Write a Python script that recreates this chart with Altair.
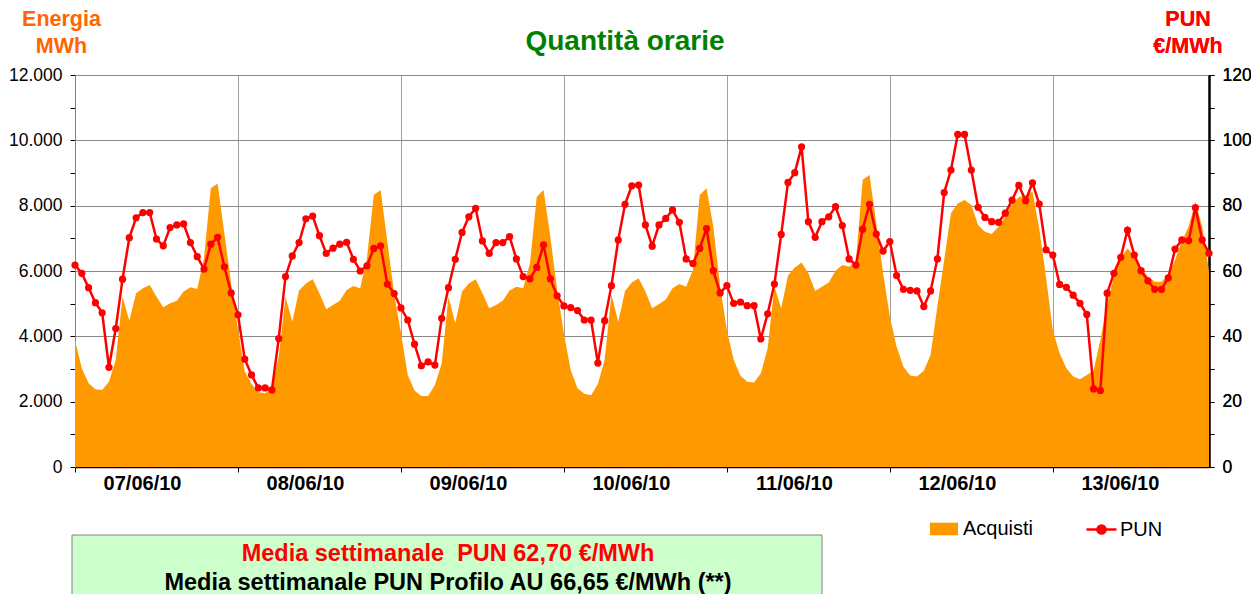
import altair as alt
import pandas as pd

# ---- data ----
day_labels = ["07/06/10", "08/06/10", "09/06/10", "10/06/10", "11/06/10", "12/06/10", "13/06/10"]

acquisti = [
    3890, 3020, 2560, 2380, 2360, 2610, 3280, 5210, 4480, 5320, 5470, 5570, 5210, 4890, 5010, 5090, 5370, 5500, 5450, 6400, 8530, 8680, 7150, 5600,
    4220, 2920, 2540, 2290, 2260, 2410, 3380, 5210, 4450, 5400, 5620, 5750, 5320, 4830, 4960, 5090, 5420, 5540, 5470, 6400, 8330, 8480, 6900, 5300,
    4100, 2820, 2340, 2170, 2170, 2510, 3170, 5210, 4400, 5370, 5620, 5750, 5320, 4860, 4960, 5090, 5400, 5520, 5470, 6240, 8270, 8480, 7050, 5420,
    4090, 2970, 2410, 2240, 2200, 2540, 3280, 5270, 4450, 5390, 5650, 5780, 5370, 4860, 4990, 5130, 5470, 5600, 5520, 6030, 8330, 8530, 7360, 5550,
    4190, 3280, 2790, 2610, 2590, 2870, 3630, 5520, 4860, 5860, 6110, 6260, 5930, 5390, 5520, 5650, 6010, 6180, 6130, 6300, 8790, 8940, 7460, 5950,
    4600, 3680, 3070, 2800, 2770, 2950, 3430, 4920, 6340, 7770, 8070, 8170, 8020, 7410, 7200, 7130, 7360, 7660, 8070, 8260, 8330, 8430, 7300, 5800,
    4190, 3480, 3020, 2770, 2690, 2820, 2950, 3890, 5010, 5830, 6420, 6690, 6490, 6080, 5830, 5670, 5670, 5880, 6340, 6900, 7360, 8120, 7360, 6000,
]

pun = [
    61.8, 59.3, 54.9, 50.3, 47.2, 30.5, 42.4, 57.5, 70.2, 76.3, 77.9, 77.9, 69.8, 67.7, 73.3, 74.1, 74.4, 68.7, 64.4, 60.6, 68.2, 70.3, 61.3, 53.3,
    46.6, 33.0, 28.2, 24.2, 24.2, 23.6, 39.3, 58.3, 64.6, 68.7, 76.0, 76.8, 70.8, 65.4, 67.0, 68.2, 68.8, 63.6, 60.0, 61.6, 66.9, 67.7, 56.0, 53.1,
    48.7, 45.0, 37.6, 31.0, 32.2, 31.2, 45.5, 54.9, 63.6, 71.8, 76.6, 79.2, 69.2, 65.4, 68.7, 68.7, 70.5, 63.7, 58.3, 57.6, 61.1, 68.0, 57.6, 52.4,
    49.3, 48.8, 47.9, 45.0, 45.0, 31.8, 44.8, 55.5, 69.5, 80.4, 86.1, 86.3, 74.1, 67.6, 74.1, 76.1, 78.7, 74.9, 63.7, 62.3, 66.9, 73.0, 60.1, 53.3,
    55.5, 50.1, 50.5, 49.4, 49.4, 39.2, 46.9, 56.0, 71.2, 87.1, 90.1, 98.0, 75.1, 70.3, 75.1, 76.6, 79.7, 73.9, 63.7, 61.8, 72.8, 80.4, 71.3, 66.1,
    69.0, 58.6, 54.4, 54.1, 53.9, 49.1, 53.9, 63.7, 84.0, 90.9, 101.8, 101.8, 90.9, 79.5, 76.4, 75.1, 74.9, 77.7, 81.7, 86.2, 81.5, 87.0, 80.5, 66.5,
    64.9, 55.9, 55.0, 52.6, 50.1, 46.7, 23.9, 23.4, 53.2, 59.3, 64.2, 72.5, 64.9, 60.1, 57.0, 54.4, 54.4, 57.9, 66.7, 69.5, 69.3, 79.4, 69.5, 65.4,
]

hours = list(range(len(pun)))
series_area = "Acquisti"
series_line = "PUN"
chart_title = "Quantità orarie"
left_title = ["Energia", "MWh"]
right_title = ["PUN", "€/MWh"]
note_red = "Media settimanale  PUN 62,70 €/MWh"
note_black = "Media settimanale PUN Profilo AU 66,65 €/MWh (**)"

df = pd.DataFrame({"ora": hours, "acquisti": acquisti, "pun": pun,
                   "s1": series_area, "s2": series_line})

FONT = "Liberation Sans"
W, H = 1134, 392

x_enc = alt.X(
    "ora:Q",
    scale=alt.Scale(domain=[0, len(hours) - 1], nice=False, zero=False),
    axis=alt.Axis(
        values=[24 * k for k in range(7)],
        labelExpr="%s[round(datum.value / 24)]" % str(day_labels),
        labelOffset=67,
        labelFlush=False,
        labelFont=FONT, labelFontSize=20, labelFontWeight="bold", labelColor="#000000",
        labelPadding=1,
        grid=True, gridColor="#a0a0a0", gridWidth=1,
        ticks=True, tickSize=5, tickColor="#000000",
        domainColor="#000000", domainWidth=1.5,
        title=None,
    ),
)

area = alt.Chart(df).mark_area(interpolate="linear", opacity=1).encode(
    x=x_enc,
    y=alt.Y(
        "acquisti:Q",
        scale=alt.Scale(domain=[0, 12000], nice=False),
        axis=alt.Axis(
            orient="left",
            values=list(range(0, 12001, 1000)),
            labelExpr="datum.value % 2000 === 0 ? replace(format(datum.value, ',d'), ',', '.') : ''",
            labelFont=FONT, labelFontSize=17.5, labelColor="#000000", labelPadding=8,
            grid=True, gridColor="#8a8a8a", gridWidth=1,
            gridOpacity={"condition": {"test": "datum.value % 2000 === 0", "value": 1}, "value": 0},
            tickSize=5, tickColor="#000000",
            domainColor="#808080",
            title=left_title, titleAngle=0, titleAlign="center", titleBaseline="alphabetic",
            titleX=-14, titleY=-50, titleLineHeight=27,
            titleFont=FONT, titleFontSize=21.5, titleFontWeight="bold", titleColor="#FF6600",
        ),
    ),
    fill=alt.Fill(
        "s1:N",
        scale=alt.Scale(domain=[series_area], range=["#FF9900"]),
        legend=alt.Legend(
            title=None, orient="none", legendX=855, legendY=440,
            symbolType="M-1,-0.45L1,-0.45L1,0.45L-1,0.45Z", symbolSize=784,
            symbolStrokeWidth=0, labelFont=FONT, labelFontSize=20, labelColor="#000000",
            labelOffset=5,
        ),
    ),
)

y_right = alt.Y(
    "pun:Q",
    scale=alt.Scale(domain=[0, 120], nice=False),
    axis=alt.Axis(
        orient="right",
        values=list(range(0, 121, 10)),
        labelExpr="datum.value % 20 === 0 ? datum.label : ''",
        labelFont=FONT, labelFontSize=17.5, labelColor="#000000", labelPadding=8,
        grid=False, tickSize=5, tickColor="#000000",
        domainColor="#000000", domainWidth=2,
        title=right_title, titleAngle=0, titleAlign="center", titleBaseline="alphabetic",
        titleX=-21.5, titleY=-50, titleLineHeight=27,
        titleFont=FONT, titleFontSize=21.5, titleFontWeight="bold", titleColor="#FF0000",
    ),
)

color_pun = alt.Color(
    "s2:N",
    scale=alt.Scale(domain=[series_line], range=["#FF0000"]),
    legend=alt.Legend(
        title=None, orient="none", legendX=1010, legendY=438,
        symbolType="M-1,0L1,0M-0.27,0A0.27,0.27,0,1,1,0.27,0A0.27,0.27,0,1,1,-0.27,0Z",
        symbolSize=900, symbolStrokeWidth=2.5, symbolFillColor="#FF0000",
        labelFont=FONT, labelFontSize=20, labelColor="#000000", labelOffset=2,
    ),
)

line = alt.Chart(df).mark_line(strokeWidth=2.5).encode(x="ora:Q", y=y_right, color=color_pun)
dots = alt.Chart(df).mark_point(filled=True, size=52, opacity=1).encode(x="ora:Q", y=y_right, color=color_pun)

box = alt.Chart(pd.DataFrame({"k": [0]})).mark_rect(
    fill="#CCFFCC", stroke="#808080", strokeWidth=1
).encode(x=alt.value(-3), x2=alt.value(747), y=alt.value(460), y2=alt.value(540))

# SVG collapses double spaces: keep the visible gap with a no-break space
txt_red = alt.Chart(pd.DataFrame({"t": [note_red.replace("  ", "\u00a0 ")]})).mark_text(
    font=FONT, fontSize=23.5, fontWeight="bold", color="#FF0000", align="center", baseline="middle"
).encode(text="t:N", x=alt.value(373), y=alt.value(479))

txt_black = alt.Chart(pd.DataFrame({"t": [note_black]})).mark_text(
    font=FONT, fontSize=23.5, fontWeight="bold", color="#000000", align="center", baseline="middle"
).encode(text="t:N", x=alt.value(373), y=alt.value(508))

chart = (
    alt.layer(area, line, dots, box, txt_red, txt_black)
    .resolve_scale(y="independent")
    .properties(
        width=W, height=H,
        autosize=alt.AutoSizeParams(type="none"),
        padding={"left": 67, "top": 67, "right": 42, "bottom": 127},
        title=alt.TitleParams(
            text=chart_title, font=FONT, fontSize=28, fontWeight="bold", color="#008000",
            anchor="middle", frame="group", dx=-17, offset=-70, baseline="alphabetic",
        ),
        background="#FFFFFF",
    )
    .configure_view(stroke="transparent")
    .configure(font=FONT)
)

chart.save("out.html", embed_options={"renderer": "svg", "actions": False})
